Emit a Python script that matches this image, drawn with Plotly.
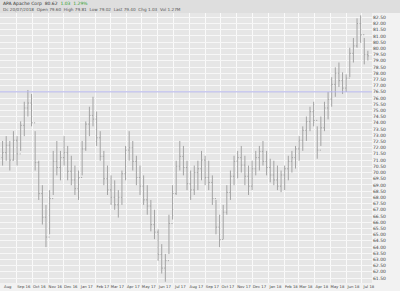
import plotly.graph_objects as go
import pandas as pd

# Weekly bars
week_start = "2016-08-05"
highs = [72.54, 72.93, 72.54, 73.33, 72.93, 74.12, 75.70, 76.65, 76.33, 73.33,
         70.95, 68.98, 67.39, 68.58, 71.74, 72.54, 71.74, 72.93, 72.14, 71.35,
         70.56, 70.16, 72.54, 74.12, 75.30, 76.10, 74.91, 73.33, 71.74, 70.56,
         69.77, 69.37, 68.58, 70.16, 72.14, 73.33, 72.54, 71.35, 70.56, 69.77,
         68.98, 67.79, 67.00, 65.42, 64.23, 63.44, 66.60, 68.98, 70.95, 72.54,
         72.14, 70.95, 70.16, 70.56, 70.95, 71.74, 71.35, 70.95, 69.77, 67.79,
         66.60, 67.39, 68.98, 70.16, 71.35, 71.74, 72.14, 71.35, 70.56, 70.95,
         71.74, 72.14, 72.54, 71.74, 71.11, 70.95, 70.56, 70.16, 70.56, 71.35,
         71.74, 72.14, 72.93, 73.72, 74.51, 75.30, 75.70, 73.72, 74.51, 75.70,
         76.49, 77.68, 78.47, 78.86, 78.07, 77.91, 80.05, 80.84, 82.42, 82.66,
         80.84, 79.81]
lows = [70.56, 70.95, 70.16, 70.95, 70.56, 71.74, 72.93, 74.51, 73.72, 70.16,
        67.79, 65.81, 63.99, 65.02, 68.19, 69.77, 69.37, 70.56, 69.37, 68.98,
        68.19, 67.79, 69.77, 71.74, 72.93, 73.72, 72.14, 70.95, 68.98, 68.19,
        67.39, 67.00, 66.37, 67.39, 69.37, 70.95, 70.16, 68.98, 68.19, 67.39,
        66.60, 65.26, 64.63, 62.89, 61.86, 61.20, 63.44, 66.21, 68.19, 70.16,
        69.77, 68.58, 67.79, 68.19, 68.58, 69.37, 68.98, 68.58, 67.39, 65.02,
        63.99, 64.63, 66.60, 67.79, 68.98, 69.53, 70.00, 68.98, 68.19, 68.58,
        69.77, 70.16, 70.56, 69.77, 69.21, 68.98, 68.58, 68.42, 68.58, 69.37,
        70.00, 70.32, 70.95, 71.74, 72.54, 73.33, 73.72, 71.11, 72.14, 73.33,
        74.28, 75.30, 76.10, 76.89, 76.33, 76.49, 77.68, 78.86, 80.05, 80.45,
        78.71, 79.02]
closes = [71.6, 72.2, 71.0, 72.6, 71.5, 73.8, 75.2, 75.6, 74.0, 70.8,
          68.3, 66.4, 64.8, 67.9, 70.9, 70.4, 71.2, 71.6, 70.1, 69.4,
          68.7, 69.6, 71.9, 73.9, 74.6, 74.3, 72.8, 71.3, 69.5, 68.6,
          68.0, 67.4, 68.0, 69.9, 71.8, 72.0, 70.9, 69.6, 68.9, 67.8,
          67.3, 65.8, 65.2, 63.4, 62.3, 62.9, 65.9, 68.3, 70.5, 71.3,
          70.4, 69.1, 68.6, 70.0, 70.3, 71.0, 69.6, 69.2, 67.9, 65.6,
          64.6, 66.8, 68.4, 69.7, 70.9, 71.2, 70.6, 69.7, 68.9, 70.3,
          71.2, 71.7, 70.9, 70.4, 69.8, 69.4, 68.9, 69.8, 70.3, 70.9,
          71.2, 71.9, 72.6, 73.4, 74.1, 74.9, 74.2, 71.8, 73.6, 75.2,
          75.9, 77.1, 78.0, 77.4, 76.8, 77.6, 79.6, 80.2, 82.0, 81.1,
          79.5, 79.4]
first_open = 71.2

ref_line_value = 76.5

y_tick_vals = [61.5 + 0.5 * k for k in range(43)]
y_tick_text = ["%.2f" % v for v in y_tick_vals]

x_tick_text = ["Aug", "Sep 16", "Oct 16", "Nov 16", "Dec 16", "Jan 17", "Feb 17",
               "Mar 17", "Apr 17", "May 17", "Jun 17", "Jul 17", "Aug 17",
               "Sep 17", "Oct 17", "Nov 17", "Dec 17", "Jan 18", "Feb 18",
               "Mar 18", "Apr 18", "May 18", "Jun 18", "Jul 18", "Aug"]
x_tick_vals = list(pd.date_range("2016-08-01", periods=len(x_tick_text), freq="MS") + pd.Timedelta(days=14))

title_main = "APA Apache Corp  80.62"
title_change = "1.03  1.29%"
title_line2 = "Dc 20/07/2018  Open 79.60  High 79.81  Low 79.02  Last 79.40  Chg 1.03  Vol 1.27M"

dates = pd.date_range(week_start, periods=len(highs), freq="7D")
opens = [first_open] + closes[:-1]

fig = go.Figure()
fig.add_trace(go.Ohlc(
    x=dates, open=opens, high=highs, low=lows, close=closes,
    increasing=dict(line=dict(color="#a3a3a3", width=1)),
    decreasing=dict(line=dict(color="#a3a3a3", width=1)),
    tickwidth=0.3, showlegend=False, hoverinfo="skip"))

fig.add_shape(type="line", xref="paper", x0=0, x1=1, yref="y",
              y0=ref_line_value, y1=ref_line_value,
              line=dict(color="#b4b4ea", width=1))

# header band
fig.add_shape(type="rect", xref="paper", yref="paper", x0=0, x1=1.08, y0=1.0, y1=1.06,
              fillcolor="#dedede", line=dict(width=0), layer="below")

fig.add_annotation(xref="paper", yref="paper", x=0.003, y=1.034, xanchor="left", yanchor="middle",
                   text=title_main + "  <span style='color:#2ca02c'>" + title_change + "</span>",
                   showarrow=False, font=dict(size=4.5, color="#333333", family="DejaVu Sans"))
fig.add_annotation(xref="paper", yref="paper", x=0.003, y=1.013, xanchor="left", yanchor="middle",
                   text=title_line2, showarrow=False,
                   font=dict(size=4.2, color="#555555", family="DejaVu Sans"))

fig.update_layout(
    width=400, height=291,
    margin=dict(l=0, r=28, t=13, b=8),
    paper_bgcolor="#f2f2f2",
    plot_bgcolor="#e6e6e6",
    xaxis=dict(
        type="date", range=["2016-07-31", "2018-07-21"],
        rangeslider=dict(visible=False),
        tickvals=x_tick_vals, ticktext=x_tick_text, tickangle=0,
        showgrid=False, ticks="", zeroline=False,
        tickfont=dict(size=3.8, color="#444444", family="DejaVu Sans"),
        minor=dict(dtick="M1", tick0="2016-08-01", showgrid=True, gridcolor="#fafafa", gridwidth=1),
        showline=False,
    ),
    yaxis=dict(
        side="right", range=[61.1, 82.85],
        tickvals=y_tick_vals, ticktext=y_tick_text,
        showgrid=True, gridcolor="#f7f7f7", gridwidth=1,
        tickfont=dict(size=4.5, color="#444444", family="DejaVu Sans"),
        ticks="", zeroline=False, showline=False,
    ),
)

fig.write_html("out.html")
